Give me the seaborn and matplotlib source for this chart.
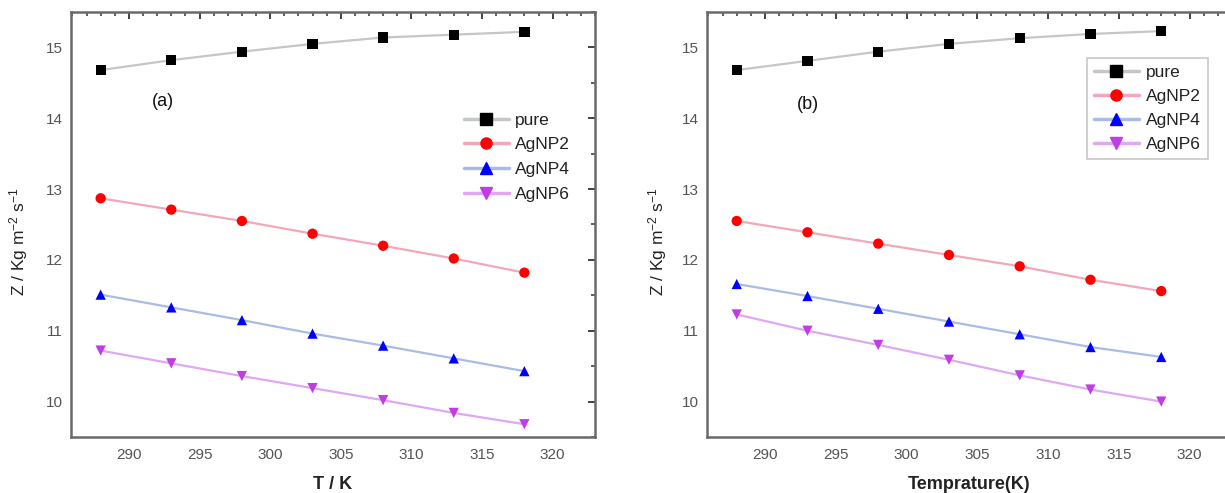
import numpy as np
import pandas as pd
import matplotlib
matplotlib.use("Agg")
import matplotlib.pyplot as plt
from matplotlib.lines import Line2D
from matplotlib.ticker import MultipleLocator
import seaborn as sns

temps = [288, 293, 298, 303, 308, 313, 318]
series = ["pure", "AgNP2", "AgNP4", "AgNP6"]

# panel (a)
a_pure = [14.68, 14.82, 14.94, 15.05, 15.14, 15.18, 15.22]
a_agnp2 = [12.87, 12.71, 12.55, 12.37, 12.20, 12.02, 11.82]
a_agnp4 = [11.51, 11.33, 11.15, 10.96, 10.79, 10.61, 10.43]
a_agnp6 = [10.72, 10.54, 10.36, 10.19, 10.02, 9.84, 9.68]

# panel (b)
b_pure = [14.68, 14.81, 14.94, 15.05, 15.13, 15.19, 15.23]
b_agnp2 = [12.55, 12.39, 12.23, 12.07, 11.91, 11.72, 11.56]
b_agnp4 = [11.66, 11.49, 11.31, 11.13, 10.95, 10.77, 10.63]
b_agnp6 = [11.23, 11.00, 10.80, 10.59, 10.37, 10.17, 10.00]

xlabels = ["T / K", "Temprature(K)"]
panel_tags = ["(a)", "(b)"]

marker_colors = {"pure": "#000000", "AgNP2": "#FF0000", "AgNP4": "#0000FF", "AgNP6": "#C03CE6"}
line_colors = {"pure": "#C4C8C4", "AgNP2": "#F2A8B8", "AgNP4": "#AABBE6", "AgNP6": "#E0A8F0"}
markers = {"pure": "s", "AgNP2": "o", "AgNP4": "^", "AgNP6": "v"}

def make_df(vals):
    rows = []
    for name, v in zip(series, vals):
        for t, z in zip(temps, v):
            rows.append({"T": t, "Z": z, "series": name})
    return pd.DataFrame(rows)

df_a = make_df([a_pure, a_agnp2, a_agnp4, a_agnp6])
df_b = make_df([b_pure, b_agnp2, b_agnp4, b_agnp6])

sns.set_style("white")
plt.rcParams["font.family"] = ["Liberation Sans", "DejaVu Sans"]
plt.rcParams["mathtext.fontset"] = "custom"
plt.rcParams["mathtext.rm"] = "Liberation Sans"
plt.rcParams["mathtext.it"] = "Liberation Sans"

fig = plt.figure(figsize=(12.25, 4.93), dpi=100)
ax_a = fig.add_axes([71/1225, 1-437/493, (595-71)/1225, (437-12)/493])
ax_b = fig.add_axes([707/1225, 1-437/493, (1232-707)/1225, (437-12)/493])

for ax, df, xl, tag, tagpos, ylx in [(ax_a, df_a, xlabels[0], panel_tags[0], (292.4, 14.24), -0.079),
                                     (ax_b, df_b, xlabels[1], panel_tags[1], (293.0, 14.2), -0.073)]:
    sns.lineplot(data=df, x="T", y="Z", hue="series", palette=line_colors,
                 linewidth=1.6, legend=False, ax=ax, zorder=2)
    sns.scatterplot(data=df, x="T", y="Z", hue="series", style="series",
                    palette=marker_colors, markers=markers, s=55,
                    edgecolor="none", legend=False, ax=ax, zorder=3)
    ax.set_xlim(285.9, 323.0)
    ax.set_ylim(9.5, 15.5)
    ax.xaxis.set_major_locator(MultipleLocator(5))
    ax.xaxis.set_minor_locator(MultipleLocator(1))
    ax.yaxis.set_major_locator(MultipleLocator(1))
    ax.yaxis.set_minor_locator(MultipleLocator(0.5))
    ax.tick_params(which="both", direction="in", top=True, right=True,
                   color="#333333", labelcolor="#555555", labelsize=11)
    ax.tick_params(which="major", length=5, width=1.3)
    ax.tick_params(which="minor", length=3, width=1.1)
    ax.tick_params(axis="x", which="major", pad=8)
    ax.tick_params(axis="y", which="major", pad=6)
    for sp in ax.spines.values():
        sp.set_color("#6a6a6a")
        sp.set_linewidth(1.8)
        sp.set_visible(True)
    ax.set_xlabel(xl, fontsize=13, fontweight="bold", color="#222222", labelpad=10)
    ax.set_ylabel(r"Z / Kg m$^{-2}$ s$^{-1}$", fontsize=12.5, color="#222222")
    ax.yaxis.set_label_coords(ylx, 0.46)
    ax.text(tagpos[0], tagpos[1], tag, fontsize=13, color="#111111", ha="center", va="center")

handles = [Line2D([0], [0], color=line_colors[s], lw=2.5, marker=markers[s],
                  markerfacecolor=marker_colors[s], markeredgecolor=marker_colors[s],
                  markersize=8) for s in series]

ax_a.legend(handles, series, loc="upper left", bbox_to_anchor=(0.72, 0.80),
            frameon=False, fontsize=12.5, handlelength=2.6, labelspacing=0.55,
            handletextpad=0.35, labelcolor="#222222")
leg = ax_b.legend(handles, series, loc="upper left", bbox_to_anchor=(0.707, 0.912),
                  frameon=True, fontsize=12.5, handlelength=2.6, labelspacing=0.5,
                  handletextpad=0.4, borderpad=0.4, fancybox=False, labelcolor="#222222")
leg.get_frame().set_edgecolor("#bbbbbb")
leg.get_frame().set_linewidth(1.2)

fig.savefig("out.png", dpi=100)
